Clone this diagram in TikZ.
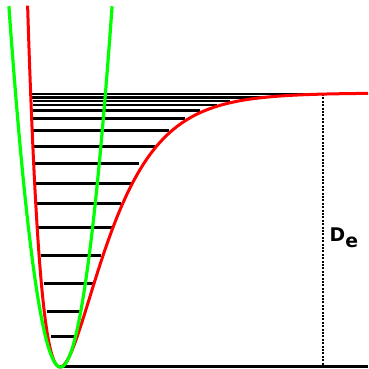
\documentclass[tikz,border=0pt]{standalone}
\usepackage{fontspec}
\newfontfamily\labfont{DejaVu Sans}
\begin{document}
\begin{tikzpicture}[x=1pt,y=-1pt,
  level/.style={line width=2.7pt,black},
  toplevel/.style={line width=2.1pt,black},
  morse/.style={line width=3pt,red,line join=round},
  harm/.style={line width=3.2pt,green,line join=round},
  dissoc/.style={line width=2.4pt,black,dash pattern=on 2pt off 1.4pt}]
\useasboundingbox (0,0) rectangle (368,369);
% energy levels
\foreach \yy/\xl/\xr in {336.5/51/75, 311.5/46.7/81.7, 283.5/44.3/92.7, 255.5/41/101,
  227.5/38/111.7, 203.5/37/120.7, 183.5/36/131, 163.5/35/139, 146.5/34.3/155,
  130.5/33.3/169.3, 118.5/33.3/185, 110.5/32.7/200}
  \draw[level] (\xl,\yy) -- (\xr,\yy);
\foreach \yy/\xl/\xr in {105/32.7/216.7, 101/32.7/230, 97.5/32/265, 94/32/323}
  \draw[toplevel] (\xl,\yy) -- (\xr,\yy);
% baseline
\coordinate (b0) at (60,366.5);
\coordinate (b1) at (368,366.5);
\draw[level] (b0) -- (b1);
% dissociation energy marker
\coordinate (d0) at (323,94);
\coordinate (d1) at (323,367);
\draw[dissoc] (d0) -- (d1);
% Morse potential
\draw[morse] plot[domain=27.6:368,samples=300,smooth]
  (\x,{367-274*(1-exp(-0.0236*(\x-60)))^2});
% harmonic potential
\draw[harm] plot[domain=8.9:112.1,samples=200,smooth]
  (\x,{367-0.1355*(\x-60.5)^2});
% label
\node[anchor=base west,inner sep=0pt] (de) at (329.5,241.7)
  {\labfont\bfseries\fontsize{18.8}{20}\selectfont D\raisebox{-6pt}{e}};
\end{tikzpicture}
\end{document}
